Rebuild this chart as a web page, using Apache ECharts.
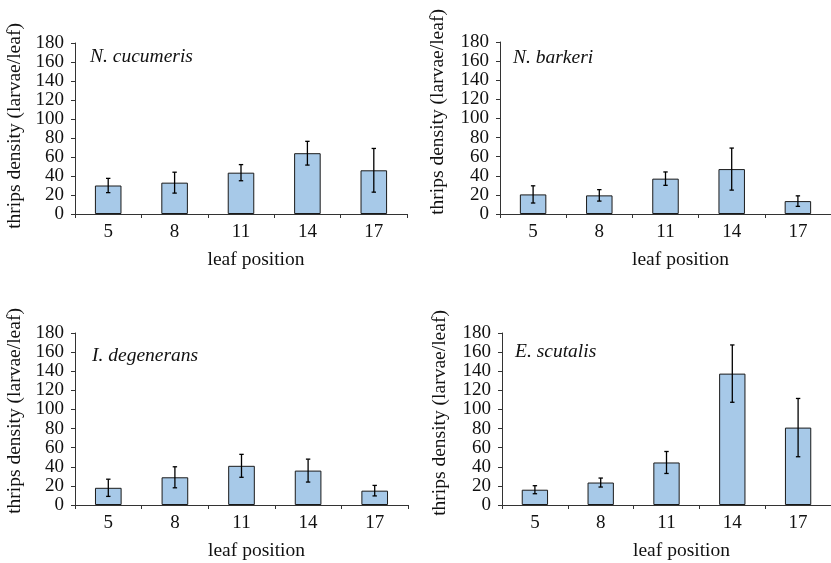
<!DOCTYPE html>
<html>
<head>
<meta charset="utf-8">
<script src="https://cdn.jsdelivr.net/npm/echarts@6/dist/echarts.min.js"></script>
<style>
html,body{margin:0;padding:0;background:#fff;}
#chart{width:831px;height:563px;}
</style>
</head>
<body>
<div id="chart"></div>
<script>
var categories = ['5', '8', '11', '14', '17'];
var yTicks = [0, 20, 40, 60, 80, 100, 120, 140, 160, 180];

var speciesNames = ['N. cucumeris', 'N. barkeri', 'I. degenerans', 'E. scutalis'];

var nCucumerisMean = [30, 33, 43.5, 64, 46];
var nCucumerisErr  = [7.5, 11, 8.5, 12.5, 23];

var nBarkeriMean = [20.5, 19.5, 37, 47, 13.5];
var nBarkeriErr  = [9, 6, 7, 22, 5.5];

var iDegeneransMean = [18, 29, 41, 36, 15];
var iDegeneransErr  = [9, 11, 12, 12, 5.5];

var eScutalisMean = [16, 23.5, 44.5, 137.5, 81];
var eScutalisErr  = [4.2, 4.7, 11.5, 30, 30.5];

var yAxisName = 'thrips density (larvae/leaf)';
var xAxisName = 'leaf position';

var means = [nCucumerisMean, nBarkeriMean, iDegeneransMean, eScutalisMean];
var errs = [nCucumerisErr, nBarkeriErr, iDegeneransErr, eScutalisErr];

var FONT = '"Liberation Serif", "Times New Roman", serif';

var grids = [
  {left: 75, right: 424, top: 43, bottom: 349},
  {left: 500, right: -2, top: 42, bottom: 349},
  {left: 75, right: 423, top: 333, bottom: 58},
  {left: 502, right: -4, top: 333, bottom: 58}
];

var yNamePos = [[15, 126], [438, 112], [15, 411], [440, 413]];
var labelPos = [[90, 57], [513, 58], [92, 356], [515, 352]];

var xAxes = [], yAxes = [], series = [], graphics = [];
for (var i = 0; i < 4; i++) {
  xAxes.push({
    type: 'category', gridIndex: i, data: categories,
    axisLine: {lineStyle: {color: '#333', width: 1}},
    axisTick: {show: true, length: 4, lineStyle: {color: '#333'}},
    axisLabel: {color: '#111', fontFamily: FONT, fontSize: 19, margin: 9},
    name: xAxisName, nameLocation: 'middle', nameGap: 36,
    nameTextStyle: {color: '#111', fontFamily: FONT, fontSize: 19.5, padding: [0, 0, 0, 30]}
  });
  yAxes.push({
    type: 'value', gridIndex: i, min: 0, max: 180, interval: 20,
    axisLine: {show: true, lineStyle: {color: '#333', width: 1}},
    axisTick: {show: true, length: 4, lineStyle: {color: '#333'}},
    splitLine: {show: false},
    axisLabel: {color: '#111', fontFamily: FONT, fontSize: 19, margin: 11,
      formatter: function (v) { return yTicks.indexOf(v) >= 0 ? String(v) : ''; }}
  });
  series.push({
    type: 'bar', xAxisIndex: i, yAxisIndex: i, data: means[i], barWidth: '40%',
    itemStyle: {color: '#a7c9e8', borderColor: '#1a1a1a', borderWidth: 1},
    silent: true
  });
  var errData = means[i].map(function (m, k) { return [k, m - errs[i][k], m + errs[i][k]]; });
  series.push({
    type: 'custom', xAxisIndex: i, yAxisIndex: i, data: errData, silent: true, z: 5,
    renderItem: function (params, api) {
      var x = api.value(0);
      var lo = api.coord([x, api.value(1)]);
      var hi = api.coord([x, api.value(2)]);
      var w = 2.2;
      var st = {stroke: '#000', lineWidth: 1.3};
      return {type: 'group', children: [
        {type: 'line', shape: {x1: lo[0], y1: lo[1], x2: hi[0], y2: hi[1]}, style: st},
        {type: 'line', shape: {x1: hi[0] - w, y1: hi[1], x2: hi[0] + w, y2: hi[1]}, style: st},
        {type: 'line', shape: {x1: lo[0] - w, y1: lo[1], x2: lo[0] + w, y2: lo[1]}, style: st}
      ]};
    }
  });
  graphics.push({
    type: 'text', x: yNamePos[i][0], y: yNamePos[i][1], rotation: Math.PI / 2,
    style: {text: yAxisName, font: '19.5px ' + FONT, fill: '#111', textAlign: 'center', textVerticalAlign: 'middle'}
  });
  graphics.push({
    type: 'text', x: labelPos[i][0], y: labelPos[i][1],
    style: {text: speciesNames[i], font: 'italic 19.5px ' + FONT, fill: '#111', textAlign: 'left', textVerticalAlign: 'middle'}
  });
}

var chart = echarts.init(document.getElementById('chart'), null, {renderer: 'canvas'});
chart.setOption({
  animation: false,
  backgroundColor: '#fff',
  grid: grids,
  xAxis: xAxes,
  yAxis: yAxes,
  series: series,
  graphic: graphics
});
</script>
</body>
</html>
